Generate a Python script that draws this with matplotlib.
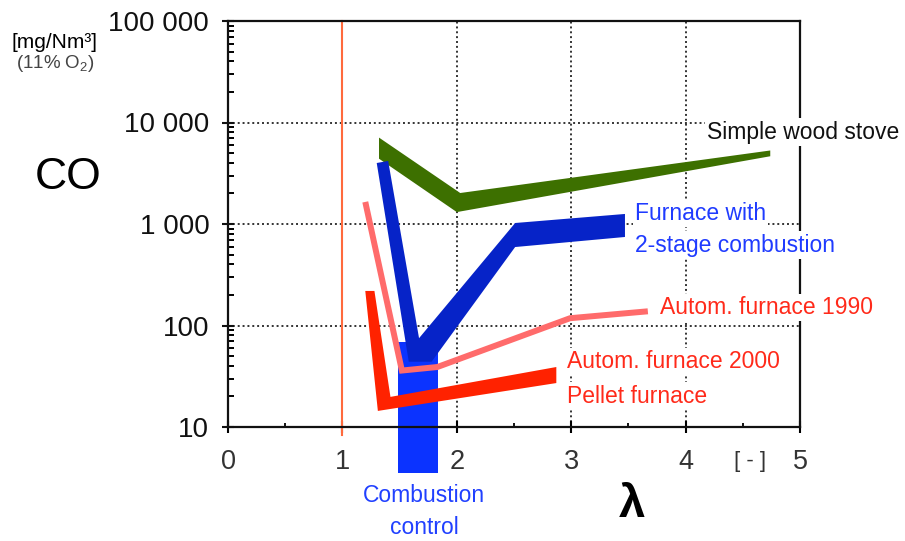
import matplotlib
matplotlib.use("Agg")
import matplotlib.pyplot as plt
from matplotlib.ticker import FixedLocator, LogLocator, NullFormatter, MultipleLocator

plt.rcParams['font.family'] = ['Liberation Sans', 'DejaVu Sans']
plt.rcParams['mathtext.fontset'] = 'custom'
plt.rcParams['mathtext.rm'] = 'Liberation Sans'

# ---------------- data (lambda, CO mg/Nm3) ----------------
# simple wood stove band: upper and lower edge
stove_up_x = [1.32, 2.03, 4.74]
stove_up_co = [7100, 2020, 5300]
stove_lo_x = [1.32, 2.00, 4.74]
stove_lo_co = [4400, 1310, 4650]

# furnace with 2-stage combustion band: outer (lower) and inner (upper) edge
furn_lo_x = [1.30, 1.58, 1.78, 2.51, 3.47]
furn_lo_co = [3990, 44, 44, 593, 745]
furn_up_x = [1.40, 1.67, 2.51, 3.47]
furn_up_co = [4180, 75, 1023, 1256]

# autom. furnace 1990 (line)
auto90_x = [1.20, 1.52, 1.83, 2.99, 3.67]
auto90_co = [1650, 36, 39, 118, 138]

# autom. furnace 2000 / pellet furnace band: outer and inner edge
pellet_out_x = [1.20, 1.31, 2.87]
pellet_out_co = [219, 14.4, 27.1]
pellet_in_x = [1.28, 1.42, 2.87]
pellet_in_co = [219, 19.8, 39.0]

# combustion control range
ctrl_x = [1.49, 1.84]
ctrl_co = [3.5, 69]

y_ticks = [10, 100, 1000, 10000, 100000]
y_labels = ['10', '100', '1 000', '10 000', '100 000']
x_ticks = [0, 1, 2, 3, 4, 5]

# colours
c_stove = '#3d7000'
c_furn = '#0623c8'
c_ctrl = '#0b33ff'
c_ctrl_txt = '#2040ff'
c_furn_txt = '#1f3bff'
c_auto90 = '#ff6b6b'
c_pellet = '#ff2200'
c_red_txt = '#ff2a1a'
c_lambda1 = '#ff6a3d'

fig = plt.figure(figsize=(9.05, 5.41), dpi=100)
ax = fig.add_axes([228 / 905, 1 - 427 / 541, 572 / 905, 406 / 541])
ax.set_yscale('log')
ax.set_xlim(0, 5)
ax.set_ylim(10, 100000)

# grid (dotted) at inner lines only
for gx in [2, 3, 4]:
    ax.axvline(gx, color='#333333', ls=(0, (1, 1.5)), lw=1.4, zorder=1)
for gy in [100, 1000, 10000]:
    ax.axhline(gy, color='#333333', ls=(0, (1, 1.5)), lw=1.4, zorder=1)

# lambda = 1
ax.axvline(1, ymin=-0.02, ymax=1, color=c_lambda1, lw=1.5, zorder=2, clip_on=False)

# combustion control bar
ax.bar((ctrl_x[0] + ctrl_x[1]) / 2, ctrl_co[1] - ctrl_co[0], width=ctrl_x[1] - ctrl_x[0],
       bottom=ctrl_co[0], color=c_ctrl, zorder=3, clip_on=False)

# bands
ax.fill(stove_up_x + stove_lo_x[::-1], stove_up_co + stove_lo_co[::-1],
        color=c_stove, lw=0, zorder=4)
ax.fill(furn_lo_x + furn_up_x[::-1], furn_lo_co + furn_up_co[::-1],
        color=c_furn, lw=0, zorder=4)
ax.plot(auto90_x, auto90_co, color=c_auto90, lw=4.3, solid_joinstyle='miter',
        solid_capstyle='butt', zorder=5)
ax.fill(pellet_out_x + pellet_in_x[::-1], pellet_out_co + pellet_in_co[::-1],
        color=c_pellet, lw=0, zorder=5)

# axes styling
for s in ax.spines.values():
    s.set_linewidth(1.6)
    s.set_color('#111111')
    s.set_zorder(6)

ax.yaxis.set_major_locator(FixedLocator(y_ticks))
ax.set_yticklabels(y_labels)
ax.yaxis.set_minor_locator(LogLocator(base=10, subs=range(2, 10)))
ax.yaxis.set_minor_formatter(NullFormatter())
ax.xaxis.set_major_locator(FixedLocator(x_ticks))
ax.xaxis.set_minor_locator(MultipleLocator(0.5))
ax.tick_params(axis='y', which='major', direction='inout', length=9, width=1.5,
               labelsize=20, pad=9, colors='#111111')
ax.tick_params(axis='y', which='minor', direction='in', length=4, width=1.4)
ax.tick_params(axis='x', which='major', direction='inout', length=9, width=1.5,
               labelsize=19.5, pad=11, labelcolor='#333333')
ax.tick_params(axis='x', which='minor', direction='in', length=3, width=1.3)

# curve labels
box = dict(facecolor='white', edgecolor='none', pad=1.5)
ax.text(4.19, 8050, 'Simple wood stove', fontsize=16.5, color='#111111',
        ha='left', va='center', bbox=box, zorder=7)
ax.text(3.56, 1282, 'Furnace with', fontsize=16.5, color=c_furn_txt,
        ha='left', va='center', bbox=box, zorder=7)
ax.text(3.56, 621, '2-stage combustion', fontsize=16.5, color=c_furn_txt,
        ha='left', va='center', bbox=box, zorder=7)
ax.text(3.78, 149, 'Autom. furnace 1990', fontsize=16.5, color=c_red_txt,
        ha='left', va='center', bbox=box, zorder=7)
ax.text(2.96, 43.7, 'Autom. furnace 2000', fontsize=16.5, color=c_red_txt,
        ha='left', va='center', bbox=box, zorder=7)
ax.text(2.96, 20.2, 'Pellet furnace', fontsize=16.5, color=c_red_txt,
        ha='left', va='center', bbox=box, zorder=7)

# outer texts
fig.text(424 / 905, 1 - 495 / 541, 'Combustion', fontsize=16.5, color=c_ctrl_txt,
         ha='center', va='center')
fig.text(424 / 905, 1 - 528 / 541, 'control', fontsize=16.5, color=c_ctrl_txt,
         ha='center', va='center')
fig.text(632 / 905, 1 - 505 / 541, 'λ', fontsize=34, fontweight='bold',
         ha='center', va='center')
fig.text(750 / 905, 1 - 462 / 541, '[ - ]', fontsize=16, color='#333333',
         ha='center', va='center')
fig.text(68 / 905, 1 - 178 / 541, 'CO', fontsize=32, ha='center', va='center')
fig.text(54 / 905, 1 - 43 / 541, '[mg/Nm³]', fontsize=15, ha='center', va='center')
fig.text(55 / 905, 1 - 64 / 541, '(11% O$_2$)', fontsize=13.5, color='#444444',
         ha='center', va='center')

fig.savefig('out.png', dpi=100)
